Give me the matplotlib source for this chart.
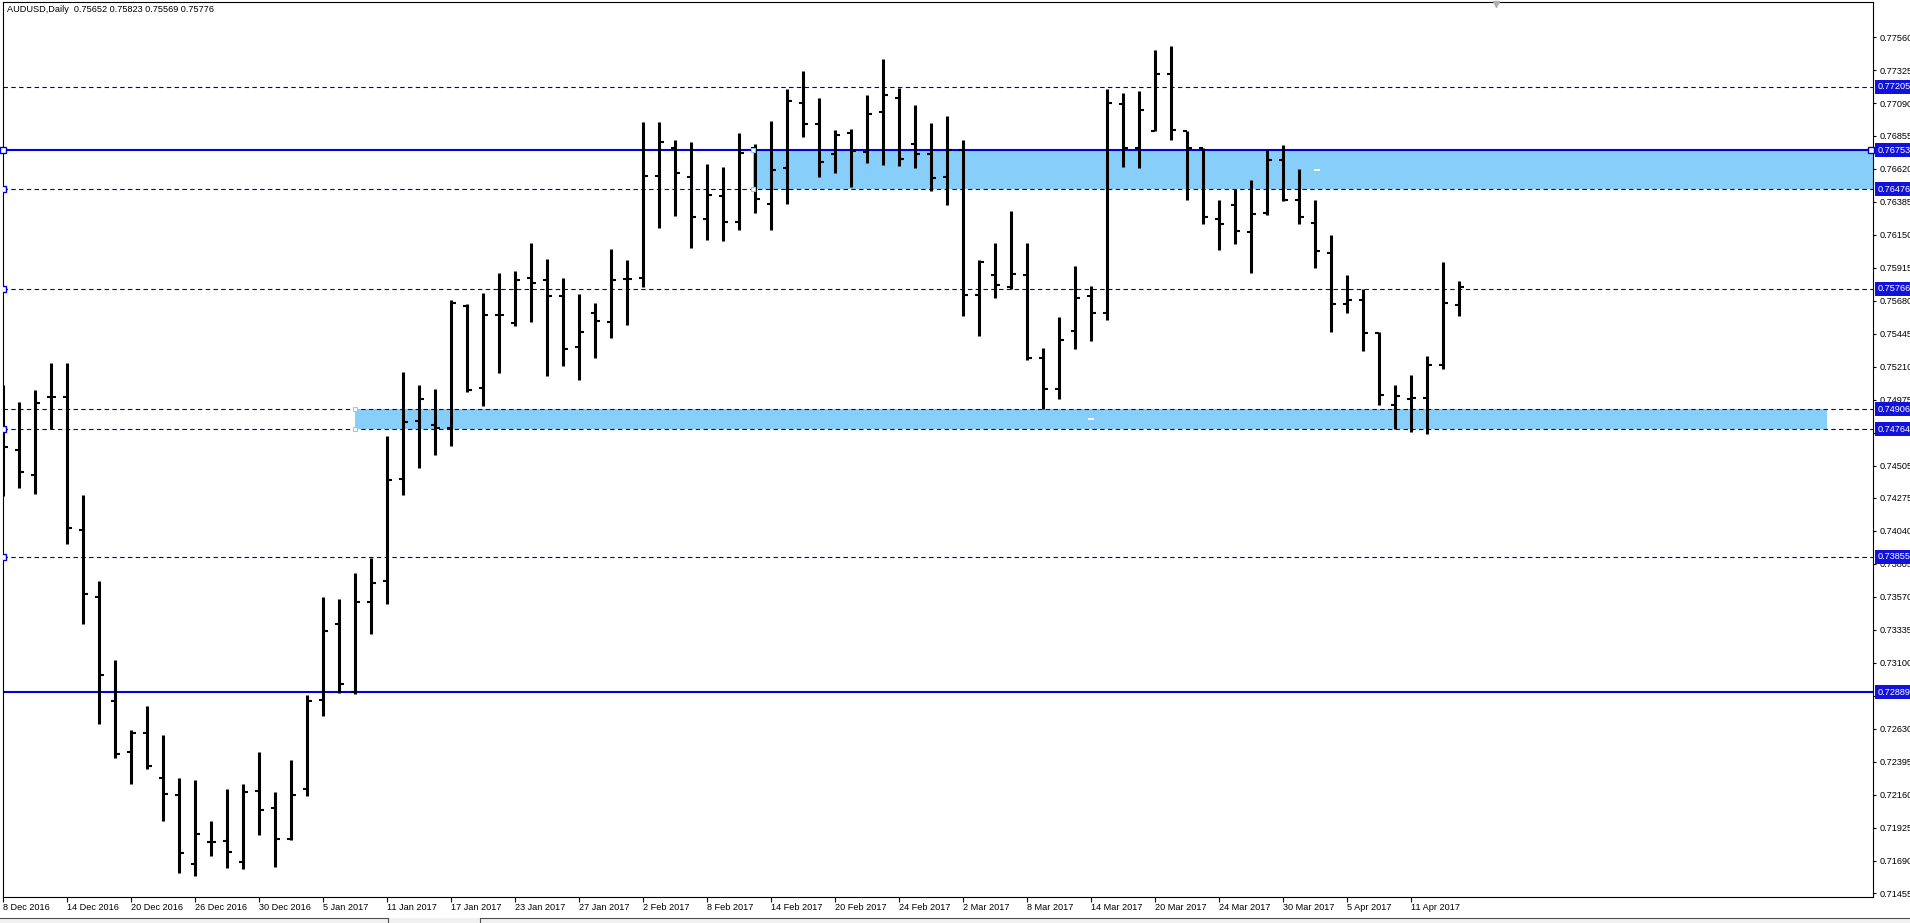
import matplotlib
matplotlib.use("Agg")
import matplotlib.pyplot as plt
import matplotlib.transforms as mtransforms
from matplotlib.lines import Line2D
from matplotlib.patches import Rectangle
import numpy as np
import pandas as pd

plt.rcParams['font.family'] = ['Liberation Sans', 'DejaVu Sans']

# ---------------- data ----------------
symbol_title = "AUDUSD,Daily"
last_ohlc = [0.75652, 0.75823, 0.75569, 0.75776]

opens = [0.74700, 0.74620, 0.74437, 0.74992, 0.74992, 0.74045, 0.73567, 0.72824, 0.72461, 0.72599,
         0.72277, 0.72154, 0.71664, 0.71824, 0.71832, 0.71681, 0.72183, 0.72061, 0.71840, 0.72199,
         0.72836, 0.73379, 0.72889, 0.73530, 0.73681, 0.74408, 0.74825, 0.74796, 0.74772, 0.75645,
         0.75057, 0.75580, 0.75523, 0.75841, 0.75825, 0.75715, 0.75351, 0.75592, 0.75531, 0.75833,
         0.75841, 0.76568, 0.76772, 0.76560, 0.76266, 0.76429, 0.76241, 0.76772, 0.76368, 0.76625,
         0.77091, 0.76940, 0.76723, 0.76878, 0.76740, 0.77029, 0.77123, 0.76797, 0.76723, 0.76560,
         0.76756, 0.75723, 0.75862, 0.75776, 0.75866, 0.75274, 0.75049, 0.75466, 0.75711, 0.75592,
         0.77083, 0.76772, 0.76891, 0.77299, 0.76887, 0.76768, 0.76266, 0.76364, 0.76168, 0.76307,
         0.76682, 0.76401, 0.76237, 0.76021, 0.75654, 0.75686, 0.75449, 0.74935, 0.74980, 0.74988,
         0.75221, 0.75652]
highs = [0.75082, 0.74959, 0.75041, 0.75237, 0.75237, 0.74298, 0.73686, 0.73122, 0.72624, 0.72795,
         0.72583, 0.72277, 0.72265, 0.71971, 0.72203, 0.72236, 0.72461, 0.72175, 0.72407, 0.72869,
         0.73571, 0.73551, 0.73743, 0.73849, 0.74714, 0.75176, 0.75082, 0.75049, 0.75686, 0.75654,
         0.75735, 0.75878, 0.75890, 0.76090, 0.75980, 0.75845, 0.75727, 0.75666, 0.76050, 0.75968,
         0.76952, 0.76952, 0.76829, 0.76813, 0.76654, 0.76633, 0.76878, 0.76797, 0.76960, 0.77193,
         0.77315, 0.77123, 0.76895, 0.76903, 0.77144, 0.77405, 0.77197, 0.77074, 0.76948, 0.76997,
         0.76825, 0.75972, 0.76094, 0.76319, 0.76090, 0.75343, 0.75568, 0.75927, 0.75788, 0.77193,
         0.77164, 0.77176, 0.77470, 0.77499, 0.76887, 0.76768, 0.76397, 0.76478, 0.76539, 0.76756,
         0.76789, 0.76621, 0.76397, 0.76152, 0.75866, 0.75764, 0.75457, 0.75082, 0.75151, 0.75286,
         0.75960, 0.75823]
lows = [0.74286, 0.74347, 0.74306, 0.74763, 0.73947, 0.73375, 0.72661, 0.72420, 0.72232, 0.72346,
        0.71971, 0.71603, 0.71583, 0.71722, 0.71640, 0.71632, 0.71869, 0.71644, 0.71836, 0.72150,
        0.72722, 0.72885, 0.72877, 0.73306, 0.73522, 0.74298, 0.74490, 0.74580, 0.74645, 0.75033,
        0.74927, 0.75164, 0.75498, 0.75531, 0.75143, 0.75217, 0.75115, 0.75274, 0.75417, 0.75511,
        0.75776, 0.76201, 0.76286, 0.76054, 0.76111, 0.76103, 0.76184, 0.76307, 0.76184, 0.76368,
        0.76846, 0.76560, 0.76593, 0.76490, 0.76662, 0.76650, 0.76642, 0.76625, 0.76462, 0.76364,
        0.75572, 0.75429, 0.75702, 0.75764, 0.75257, 0.74906, 0.74980, 0.75335, 0.75396, 0.75543,
        0.76633, 0.76625, 0.76891, 0.76829, 0.76397, 0.76225, 0.76041, 0.76082, 0.75878, 0.76290,
        0.76389, 0.76225, 0.75911, 0.75457, 0.75592, 0.75319, 0.74939, 0.74767, 0.74747, 0.74727,
        0.75196, 0.75569]
closes = [0.74641, 0.74461, 0.74951, 0.74992, 0.74061, 0.73587, 0.73012, 0.72448, 0.72599, 0.72367,
          0.72163, 0.71746, 0.71877, 0.71824, 0.71754, 0.72175, 0.72048, 0.71844, 0.72154, 0.72828,
          0.73326, 0.72950, 0.73530, 0.73669, 0.74400, 0.74816, 0.74980, 0.74776, 0.75666, 0.75041,
          0.75580, 0.75580, 0.75825, 0.75809, 0.75715, 0.75339, 0.75458, 0.75539, 0.75829, 0.75833,
          0.76568, 0.76813, 0.76593, 0.76274, 0.76437, 0.76241, 0.76735, 0.76409, 0.76613, 0.77103,
          0.76940, 0.76666, 0.76862, 0.76748, 0.77009, 0.77144, 0.76691, 0.76723, 0.76552, 0.76752,
          0.75723, 0.75956, 0.75796, 0.75870, 0.75274, 0.75053, 0.75400, 0.75702, 0.75592, 0.77091,
          0.76772, 0.77042, 0.77299, 0.76899, 0.76768, 0.76274, 0.76225, 0.76176, 0.76299, 0.76686,
          0.76401, 0.76278, 0.76037, 0.75654, 0.75686, 0.75449, 0.75008, 0.75000, 0.74988, 0.75225,
          0.75666, 0.75776]

dates = pd.bdate_range("2016-12-08", periods=len(opens))
date_label_step = 4

price_ticks = [0.77560, 0.77325, 0.77090, 0.76855, 0.76620, 0.76385, 0.76150, 0.75915, 0.75680,
               0.75445, 0.75210, 0.74975, 0.74740, 0.74505, 0.74275, 0.74040, 0.73805, 0.73570,
               0.73335, 0.73100, 0.72865, 0.72630, 0.72395, 0.72160, 0.71925, 0.71690, 0.71455]

level_prices = [0.77205, 0.76753, 0.76476, 0.75766, 0.74906, 0.74764, 0.73855, 0.72889]
level_solid = [False, True, False, False, False, False, False, True]
level_handle = [False, True, True, True, False, True, True, False]

zone_bottoms = [0.76476, 0.74764]
zone_tops = [0.76753, 0.74906]
zone_start_bar = [46.87, 22.0]
zone_end_bar = [117.3, 114.0]

# ---------------- figure ----------------
W, H = 1910, 923
fig = plt.figure(figsize=(W / 100, H / 100), dpi=100)
fig.patch.set_facecolor("white")
ax_l, ax_r, ax_t, ax_b = 3, 1873, 2, 897
ax = fig.add_axes([ax_l / W, 1 - ax_b / H, (ax_r - ax_l) / W, (ax_b - ax_t) / H])
ax.set_facecolor("white")

x = np.arange(len(opens))
ax.set_xlim(-0.02, 116.85)
ax.set_ylim(0.71430, 0.77810)

solid_col = "#0000DD"
dash_col = "#000096"
zone_col = "#87CEFA"

# zones
for b, t, s, e in zip(zone_bottoms, zone_tops, zone_start_bar, zone_end_bar):
    ax.add_patch(Rectangle((s, b), e - s, t - b, facecolor=zone_col, edgecolor="none", zorder=1))
    ax.plot([s, s], [b, t], ls="none", marker="s", ms=3.2, mfc="white", mec=zone_col, mew=0.8, zorder=4)
    cx, cy = (s + e) / 2, (b + t) / 2
    ax.plot([cx - 0.12, cx + 0.12], [cy, cy], color="white", lw=1.4, zorder=2)

# horizontal levels
for p, solid, hnd in zip(level_prices, level_solid, level_handle):
    if solid:
        ax.axhline(p, color=solid_col, lw=1.5, zorder=2)
    else:
        ax.axhline(p, color=dash_col, lw=0.8, ls=(0, (4, 3)), zorder=2)
    if hnd:
        ax.plot([ax.get_xlim()[0]], [p], ls="none", marker="s", ms=4, mfc="white",
                mec=solid_col, mew=1.0, zorder=5, clip_on=False if solid else True)
ax.plot([ax.get_xlim()[1] - 0.15], [level_prices[1]], ls="none", marker="s", ms=4, mfc="white",
        mec=solid_col, mew=1.0, zorder=5, clip_on=False)

# OHLC bars
tick_len = 0.28
ax.vlines(x, lows, highs, color="black", lw=2.2, zorder=3, capstyle="butt")
ax.hlines(opens, x - tick_len, x, color="black", lw=1.5, zorder=3)
ax.hlines(closes, x, x + tick_len, color="black", lw=1.5, zorder=3)

# axes styling
for side in ["top", "right", "bottom", "left"]:
    ax.spines[side].set_color("black")
    ax.spines[side].set_linewidth(0.8)

ax.yaxis.tick_right()
ax.set_yticks(price_ticks)
ax.set_yticklabels([f"{v:.5f}" for v in price_ticks])
ax.tick_params(axis="y", which="major", direction="out", length=2.5, width=0.8, pad=2.0,
               labelsize=6.6, colors="black", right=True, left=False)

ax.set_xticks(x[::date_label_step])
ax.set_xticklabels([f"{d.day} {d.strftime('%b %Y')}" for d in dates[::date_label_step]], ha="left")
ax.tick_params(axis="x", which="major", direction="out", length=3.5, width=0.8, pad=1.0,
               labelsize=6.6, colors="black")

# highlighted price labels on the right axis
tr = mtransforms.blended_transform_factory(fig.transFigure, ax.transData)
for p in level_prices:
    ax.text(1878 / W, p, f"{p:.5f}", transform=tr, color="white", fontsize=6.6,
            va="center", ha="left", zorder=10, clip_on=False,
            bbox=dict(boxstyle="square,pad=0.28", fc="#1212DC", ec="none"))

# header
fig.text(7 / W, 1 - 10 / H, f"{symbol_title}  " + " ".join(f"{v:.5f}" for v in last_ohlc),
         fontsize=6.6, va="center", ha="left", color="black")

# chart-shift marker at top
fig.add_artist(Line2D([1496 / W], [1 - 4 / H], marker="v", ms=5, color="#B0B0B0",
                      transform=fig.transFigure, ls="none"))

# bottom tab strip
fig.add_artist(Rectangle((0, 0), 1, 5 / H, transform=fig.transFigure, fc="#F0F0F0", ec="none"))
fig.add_artist(Line2D([0, 388 / W], [5 / H, 5 / H], color="#505050", lw=0.8, transform=fig.transFigure))
fig.add_artist(Line2D([388 / W, 388 / W], [0, 5 / H], color="#505050", lw=0.8, transform=fig.transFigure))
fig.add_artist(Line2D([480 / W, 1], [5 / H, 5 / H], color="#505050", lw=0.8, transform=fig.transFigure))
fig.add_artist(Line2D([480 / W, 480 / W], [0, 5 / H], color="#505050", lw=0.8, transform=fig.transFigure))

fig.savefig("out.png", dpi=100, facecolor="white")
